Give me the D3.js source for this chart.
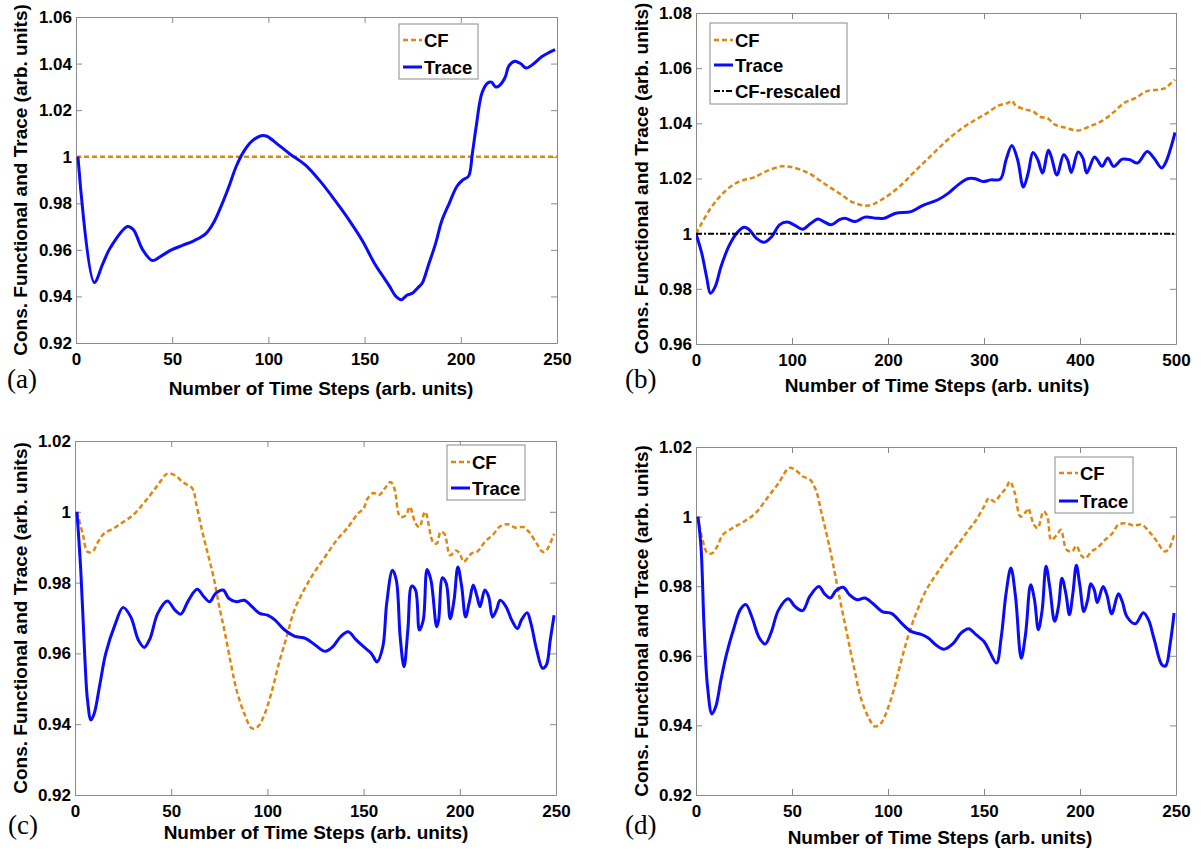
<!DOCTYPE html>
<html lang="en">
<head>
<meta charset="UTF-8">
<title>Cons. Functional and Trace</title>
<script src="https://cdn.jsdelivr.net/npm/d3@7"></script>
<style>
    body { margin: 0; background: #fff; }
    svg { display: block; }
    .tick text, .axis-label, .legend-text {
        font-family: "Liberation Sans", Arial, sans-serif;
        font-weight: bold;
        fill: #000;
    }
    .panel-tag { font-family: "Liberation Serif", serif; fill: #000; }
</style>
</head>
<body>
<svg id="chart" width="1201" height="850"></svg>
<script>
// ---- data ----
const xTicks250 = [0, 50, 100, 150, 200, 250]
const xTicks500 = [0, 100, 200, 300, 400, 500]
const yTicksA = [0.92, 0.94, 0.96, 0.98, 1.0, 1.02, 1.04, 1.06]
const yTicksB = [0.96, 0.98, 1.0, 1.02, 1.04, 1.06, 1.08]
const yTicksCD = [0.92, 0.94, 0.96, 0.98, 1.0, 1.02]

const cfA = [[0, 1.0], [250, 1.0]]
const traceA = [[1,1.0],[9.5,0.946],[13.9,0.954],[17.9,0.961],[26.8,0.970],[29.8,0.9687],[34.7,0.960],[39.7,0.9554],
    [43.6,0.957],[49.6,0.960],[55.6,0.962],[61.5,0.964],[67.5,0.967],[71.4,0.9715],[75.4,0.9787],[79.4,0.987],
    [83.3,0.9959],[87.3,1.0024],[91.3,1.0066],[96.2,1.009],[99.2,1.0088],[105,1.0052],[111,1.0013],[119,0.9966],
    [127,0.9894],[135,0.9808],[143,0.9715],[149,0.9637],[155,0.9544],[159,0.9493],[163,0.9443],[166,0.9403],
    [169,0.9386],[172,0.9405],[175,0.9415],[178,0.944],[180,0.9458],[183,0.953],[187,0.963],[190,0.9722],
    [194,0.980],[198,0.9873],[201,0.990],[204,0.9916],[206,1.0014],[208,1.013],[211,1.0274],[214,1.0317],
    [216,1.032],[218,1.030],[220,1.0305],[223,1.034],[225,1.039],[228,1.041],[231,1.040],[234,1.0381],
    [238,1.040],[242,1.0429],[246,1.0448],[249,1.046]]

const cfB = [[0,1.0],[6,1.0038],[14,1.0086],[22,1.0123],[30,1.0153],[40,1.018],[50,1.0195],[61,1.0205],[73,1.0226],
    [89,1.0244],[101,1.024],[117,1.022],[133,1.0183],[149,1.0147],[164,1.0113],[180,1.0102],[196,1.0129],
    [212,1.0171],[228,1.0226],[244,1.028],[260,1.0334],[275,1.0377],[291,1.0413],[303,1.0437],[315,1.0464],
    [325,1.0474],[329,1.0482],[333,1.0464],[343,1.045],[351,1.0443],[359,1.0423],[366,1.0419],[374,1.0395],
    [386,1.0383],[398,1.0374],[410,1.0389],[422,1.0407],[434,1.0437],[446,1.0474],[458,1.0492],[469,1.0516],
    [481,1.0522],[489,1.0528],[495,1.0546],[499,1.0558]]
const traceB = [[0,1.0],[6,0.9929],[11,0.9844],[15,0.9784],[20,0.9808],[26,0.988],[34,0.9953],[42,1.0],[50,1.0023],
    [55,1.0016],[63,0.9983],[71,0.9969],[79,0.999],[87,1.0032],[95,1.0042],[103,1.003],[111,1.0016],[119,1.0036],
    [127,1.0053],[133,1.0044],[141,1.0032],[149,1.005],[155,1.0056],[166,1.0044],[176,1.006],[188,1.0056],
    [196,1.0056],[208,1.0074],[224,1.008],[236,1.0102],[252,1.0123],[263,1.0147],[273,1.0177],[283,1.0199],
    [291,1.0199],[299,1.0189],[307,1.0195],[317,1.0198],[323,1.0268],[329,1.032],[335,1.0268],[341,1.0169],
    [346,1.022],[351,1.0294],[356,1.0268],[361,1.022],[367,1.0302],[370,1.028],[376,1.0213],[383,1.0286],
    [387,1.0268],[391,1.0222],[398,1.0296],[403,1.0274],[407,1.022],[415,1.0278],[418,1.0268],[423,1.0244],
    [429,1.0274],[435,1.0244],[444,1.027],[452,1.0268],[460,1.0256],[470,1.0298],[477,1.0274],[485,1.0238],
    [489,1.0256],[495,1.0316],[499,1.0367]]
const cfRescaledB = [[0, 1.0], [500, 1.0]]

const cfC = [[1,1.0],[4,0.9938],[6.5,0.9887],[9,0.9887],[12,0.9915],[15,0.9938],[20,0.9953],[25,0.9971],[30,0.999],
    [37,1.0033],[43,1.0075],[48,1.0108],[52,1.0103],[56,1.0084],[61,1.0066],[63,1.0023],[66,0.9948],[69,0.9882],
    [72,0.9816],[75,0.9732],[78,0.9656],[81,0.9572],[84,0.9496],[88,0.943],[92,0.9388],[95,0.9393],[98,0.9421],
    [102,0.9487],[106,0.9572],[110,0.9647],[114,0.9722],[119,0.9779],[124,0.9826],[130,0.9873],[136,0.992],
    [142,0.9957],[147,0.9995],[150,1.0009],[152,1.0037],[155,1.0053],[158,1.0047],[161,1.0066],[164,1.0084],
    [166,1.0066],[169,0.9986],[172,0.999],[174,1.0014],[177,0.9967],[179,0.9957],[182,1.0],[186,0.9915],
    [188,0.991],[190,0.9943],[192,0.9938],[195,0.9877],[198,0.9891],[200,0.9882],[202,0.9859],[206,0.9882],
    [209,0.9887],[213,0.9915],[217,0.9934],[221,0.9959],[225,0.9965],[229,0.9955],[233,0.9957],[236,0.9943],
    [240,0.991],[243,0.9887],[245,0.9891],[248,0.9924],[249,0.9938]]
const traceC = [[1,1.0],[3,0.9835],[5,0.96],[6.5,0.9468],[8.3,0.9412],[10,0.943],[13,0.9515],[16,0.96],[21,0.9684],
    [25,0.973],[29,0.9703],[33,0.9637],[36,0.9617],[39,0.9642],[43,0.9713],[48,0.9748],[52,0.9722],[55,0.9711],
    [59,0.975],[63.5,0.9781],[67,0.976],[70,0.9746],[73,0.9769],[77,0.9779],[80,0.9755],[84,0.9746],[88,0.975],
    [92,0.9732],[96,0.9713],[100,0.9708],[104,0.9694],[109,0.9666],[114,0.9649],[120,0.9642],[125,0.9623],
    [130,0.9606],[134,0.9619],[138,0.9647],[142,0.9661],[146,0.9639],[150,0.9619],[154,0.96],[157,0.9576],
    [160,0.9619],[162,0.9741],[165,0.9835],[167,0.9807],[169,0.9647],[171,0.9562],[173,0.9666],[175,0.979],
    [177,0.9779],[179,0.9666],[181,0.9694],[183,0.9837],[185,0.9807],[188,0.9675],[189,0.9694],[191,0.9814],
    [193,0.9797],[195,0.9698],[197,0.975],[199,0.9844],[201,0.9788],[203,0.9703],[205,0.9746],[207,0.9793],
    [209,0.976],[210.5,0.9732],[213,0.9779],[215,0.976],[217,0.9703],[219,0.9722],[221,0.975],[224,0.9732],
    [227,0.9694],[230,0.967],[232,0.9694],[235,0.9715],[237,0.9684],[240,0.9609],[243,0.9558],[245,0.9567],
    [247,0.9637],[249,0.9708]]

const cfD = [[1,1.0],[3.4,0.9933],[6,0.9895],[8.5,0.9895],[11,0.9914],[14,0.9948],[19,0.9967],[25,0.9986],[31,1.001],
    [37,1.0053],[43,1.0096],[48.5,1.014],[51.5,1.0135],[55.5,1.0116],[59.4,1.0106],[62.4,1.0077],[65.4,1.001],
    [68.3,0.9943],[71.3,0.9866],[74.3,0.978],[78.2,0.9675],[82.2,0.9569],[86.2,0.9473],[90,0.9421],[93,0.9397],
    [96,0.9404],[99,0.9435],[103,0.9502],[107,0.9588],[111,0.9665],[115,0.9727],[120,0.979],[125,0.9833],
    [131,0.9881],[137,0.9924],[142,0.9962],[146,0.9991],[150,1.0029],[152.5,1.0053],[155.5,1.0043],[158.5,1.0063],
    [161.5,1.0082],[163.5,1.0101],[166,1.0068],[169,1.0],[172,1.0015],[173,1.0024],[176,0.9977],[178,0.9967],
    [181,1.0015],[183,1.0],[185,0.9933],[188,0.9948],[190,0.9962],[193,0.9905],[196,0.99],[198,0.9916],
    [201,0.9886],[203,0.9881],[206,0.99],[209,0.991],[213,0.9933],[217,0.9953],[220,0.9977],[224,0.9981],
    [228,0.9974],[232,0.9977],[236,0.9957],[240,0.9929],[244,0.99],[246,0.9905],[248,0.9929],[249,0.9948]]
const traceD = [[1,1.0],[2.6,0.9914],[4.2,0.9684],[6,0.9512],[8.3,0.9433],[10.3,0.9454],[13,0.9531],[16,0.9607],
    [20,0.9684],[23,0.9732],[26,0.9747],[29,0.9713],[33,0.9651],[36,0.9634],[39,0.9665],[43,0.9732],[48,0.9764],
    [51.5,0.9742],[55.5,0.973],[59.4,0.9772],[64,0.9799],[67,0.9778],[70,0.9766],[73,0.9788],[76.7,0.9797],
    [80,0.9775],[84,0.9761],[88,0.9766],[92,0.9751],[97,0.9727],[102,0.9721],[107,0.9694],[112,0.967],
    [117,0.9662],[121,0.9651],[125,0.9631],[129,0.9619],[134,0.9636],[138,0.9665],[142,0.9678],[146,0.966],
    [150,0.9641],[152.5,0.9617],[156.5,0.9579],[159,0.9655],[161.5,0.978],[164,0.9852],[166.4,0.9771],
    [169.4,0.9593],[171.7,0.9665],[174.3,0.9804],[176.3,0.9761],[178.3,0.9675],[180.3,0.9732],[182.3,0.9857],
    [184.2,0.9799],[186.8,0.9699],[188.8,0.9742],[190.6,0.9823],[192.6,0.978],[194.5,0.9718],[196.3,0.978],
    [198.1,0.986],[200,0.9799],[202,0.9727],[204,0.9761],[205.6,0.9807],[207.4,0.979],[209,0.9753],[212,0.9799],
    [214,0.9775],[216.5,0.9721],[220,0.9778],[222,0.9756],[224.4,0.9713],[228.8,0.9692],[233,0.9724],
    [235.7,0.9703],[238.7,0.9646],[242.7,0.9574],[244.6,0.9571],[247,0.9636],[249,0.9723]]

const xLabel = 'Number of Time Steps (arb. units)'
const yLabel = 'Cons. Functional and Trace (arb. units)'

// ---- styles ----
const axisColor = '#8a8a8a'
const styles = {
    CF: { color: '#e0870f', width: 2.5, dash: '5,3' },
    Trace: { color: '#0a0aff', width: 3, dash: null },
    'CF-rescaled': { color: '#000', width: 2, dash: '6,2,2,2' }
}

const svg = d3.select('#chart')

const panels = [
    {
        tag: '(a)', left: 76, right: 557, top: 17, bottom: 343,
        xDomain: [0, 250], yDomain: [0.92, 1.06], xTicks: xTicks250, yTicks: yTicksA,
        yLabelX: 20, xLabel: [321, 395], tagPos: [7, 388],
        legend: { x: 399, y: 24, w: 79, h: 55, rows: [40, 67] },
        series: [['CF', cfA], ['Trace', traceA]]
    },
    {
        tag: '(b)', left: 696, right: 1176, top: 13, bottom: 344,
        xDomain: [0, 500], yDomain: [0.96, 1.08], xTicks: xTicks500, yTicks: yTicksB,
        yLabelX: 641, xLabel: [937, 392], tagPos: [625, 388],
        legend: { x: 710, y: 23, w: 137, h: 81, rows: [40, 65, 91] },
        series: [['CF', cfB], ['Trace', traceB], ['CF-rescaled', cfRescaledB]]
    },
    {
        tag: '(c)', left: 75, right: 556, top: 441, bottom: 795,
        xDomain: [0, 250], yDomain: [0.92, 1.02], xTicks: xTicks250, yTicks: yTicksCD,
        yLabelX: 20, xLabel: [316, 839], tagPos: [8, 834],
        legend: { x: 447, y: 445, w: 78, h: 55, rows: [462, 488] },
        series: [['CF', cfC], ['Trace', traceC]]
    },
    {
        tag: '(d)', left: 696, right: 1176, top: 447, bottom: 795,
        xDomain: [0, 250], yDomain: [0.92, 1.02], xTicks: xTicks250, yTicks: yTicksCD,
        yLabelX: 641, xLabel: [940, 844], tagPos: [625, 834],
        legend: { x: 1055, y: 457, w: 78, h: 56, rows: [473, 501] },
        series: [['CF', cfD], ['Trace', traceD]]
    }
]

panels.forEach((p, i) => drawPanel(p, i))

function fmt(d) {
    return String(+d.toFixed(2))
}

function drawPanel(p, i) {
    const x = d3.scaleLinear().domain(p.xDomain).range([p.left, p.right])
    const y = d3.scaleLinear().domain(p.yDomain).range([p.bottom, p.top])
    const g = svg.append('g').attr('class', 'panel')

    g.append('clipPath').attr('id', 'clip' + i)
        .append('rect')
        .attr('x', p.left).attr('y', p.top)
        .attr('width', p.right - p.left).attr('height', p.bottom - p.top)

    // axes, MATLAB-style inward ticks on all sides
    const axes = [
        [d3.axisBottom(x).tickValues(p.xTicks).tickFormat(fmt).tickPadding(10), `translate(0,${p.bottom})`],
        [d3.axisTop(x).tickValues(p.xTicks).tickFormat(''), `translate(0,${p.top})`],
        [d3.axisLeft(y).tickValues(p.yTicks).tickFormat(fmt).tickPadding(4), `translate(${p.left},0)`],
        [d3.axisRight(y).tickValues(p.yTicks).tickFormat(''), `translate(${p.right},0)`]
    ]
    axes.forEach(([ax, tr]) => {
        const a = g.append('g')
            .attr('transform', tr)
            .call(ax.tickSizeInner(-6).tickSizeOuter(0))
        a.select('.domain').attr('stroke', axisColor)
        a.selectAll('.tick line').attr('stroke', axisColor)
        a.selectAll('.tick text').attr('font-size', 17).attr('fill', '#000')
    })

    const line = d3.line()
        .x(d => x(d[0]))
        .y(d => y(d[1]))
        .curve(d3.curveCatmullRom.alpha(0.5))

    p.series.forEach(([name, data]) => {
        const s = styles[name]
        g.append('path')
            .datum(data)
            .attr('clip-path', `url(#clip${i})`)
            .attr('fill', 'none')
            .attr('stroke', s.color)
            .attr('stroke-width', s.width)
            .attr('stroke-dasharray', s.dash)
            .attr('stroke-linejoin', 'round')
            .attr('d', line)
    })

    // legend
    const lg = p.legend
    g.append('rect')
        .attr('x', lg.x).attr('y', lg.y)
        .attr('width', lg.w).attr('height', lg.h)
        .attr('fill', '#fff')
        .attr('stroke', axisColor)
    p.series.forEach(([name], k) => {
        const s = styles[name]
        const ry = lg.rows[k]
        g.append('line')
            .attr('x1', lg.x + 4).attr('x2', lg.x + 23)
            .attr('y1', ry).attr('y2', ry)
            .attr('stroke', s.color)
            .attr('stroke-width', s.width)
            .attr('stroke-dasharray', s.dash)
        g.append('text')
            .attr('class', 'legend-text')
            .attr('x', lg.x + 25).attr('y', ry)
            .attr('dy', '0.36em')
            .attr('font-size', 18.5)
            .text(name)
    })

    // axis labels
    g.append('text')
        .attr('class', 'axis-label')
        .attr('x', p.xLabel[0])
        .attr('y', p.xLabel[1])
        .attr('text-anchor', 'middle')
        .attr('font-size', 19)
        .text(xLabel)
    g.append('text')
        .attr('class', 'axis-label')
        .attr('transform', `translate(${p.yLabelX},${(p.top + p.bottom) / 2}) rotate(-90)`)
        .attr('text-anchor', 'middle')
        .attr('dy', '0.36em')
        .attr('font-size', 19)
        .text(yLabel)

    g.append('text')
        .attr('class', 'panel-tag')
        .attr('x', p.tagPos[0]).attr('y', p.tagPos[1])
        .attr('font-size', 27)
        .text(p.tag)
}
</script>
</body>
</html>
